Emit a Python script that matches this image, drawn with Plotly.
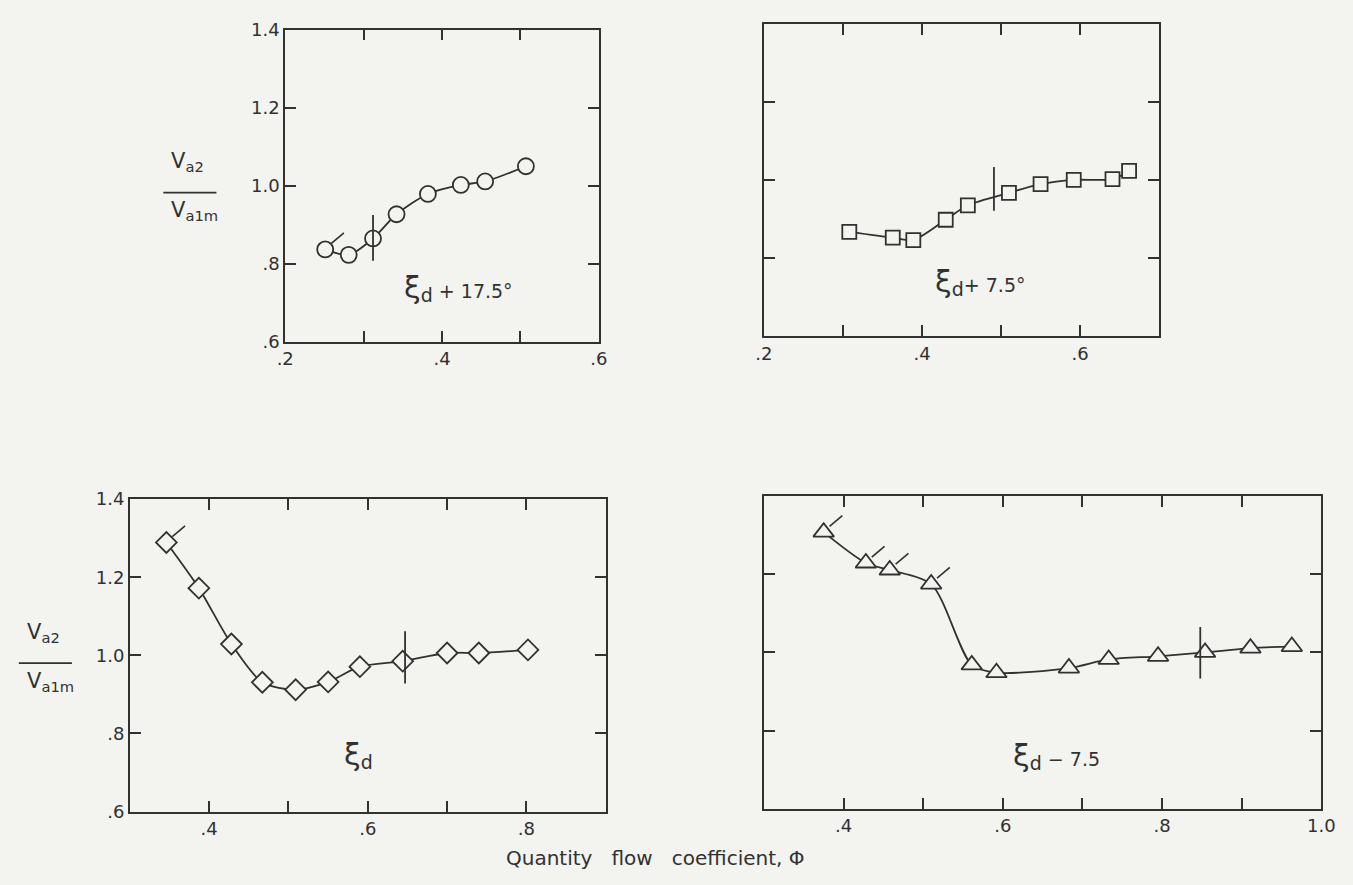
import plotly.graph_objects as go

# ---------------- data ----------------
phi_p1 = [0.251, 0.281, 0.312, 0.342, 0.382, 0.424, 0.455, 0.507]
v_p1 = [0.837, 0.823, 0.865, 0.927, 0.979, 1.002, 1.011, 1.050]

phi_p2 = [0.308, 0.363, 0.389, 0.430, 0.458, 0.510, 0.550, 0.592, 0.641, 0.662]
v_p2 = [0.867, 0.852, 0.846, 0.898, 0.935, 0.967, 0.989, 1.000, 1.002, 1.023]

phi_p3 = [0.346, 0.387, 0.428, 0.467, 0.509, 0.550, 0.590, 0.644, 0.700, 0.740, 0.802]
v_p3 = [1.289, 1.172, 1.029, 0.931, 0.912, 0.932, 0.971, 0.985, 1.006, 1.006, 1.014]

phi_p4 = [0.375, 0.428, 0.458, 0.510, 0.561, 0.592, 0.683, 0.733, 0.795, 0.854, 0.911, 0.963]
v_p4 = [1.308, 1.229, 1.211, 1.175, 0.968, 0.948, 0.960, 0.982, 0.990, 1.000, 1.011, 1.015]

flagged_p1 = [0]
flagged_p2 = []
flagged_p3 = [0]
flagged_p4 = [0, 1, 2, 3]

design_phi = [0.312, 0.491, 0.647, 0.848]
design_lo = [0.808, 0.921, 0.928, 0.933]
design_hi = [0.925, 1.033, 1.062, 1.065]

XI = "<span style='font-size:30px'>ξ</span><sub><span style='font-size:19px'>d</span></sub>"
panel_labels = [XI + " + 17.5°", XI + "+ 7.5°", XI, XI + " − 7.5"]
label_phi = [0.421, 0.473, 0.588, 0.667]
label_v = [0.738, 0.738, 0.746, 0.736]

y_ticks = [0.6, 0.8, 1.0, 1.2, 1.4]
y_ticktext = [".6", ".8", "1.0", "1.2", "1.4"]

x_ticks_p1 = [0.2, 0.3, 0.4, 0.5, 0.6]
x_labvals_p1 = [0.2, 0.4, 0.6]
x_labtext_p1 = [".2", ".4", ".6"]
x_ticks_p2 = [0.2, 0.3, 0.4, 0.5, 0.6, 0.7]
x_labvals_p2 = [0.2, 0.4, 0.6]
x_labtext_p2 = [".2", ".4", ".6"]
x_ticks_p3 = [0.3, 0.4, 0.5, 0.6, 0.7, 0.8, 0.9]
x_labvals_p3 = [0.4, 0.6, 0.8]
x_labtext_p3 = [".4", ".6", ".8"]
x_ticks_p4 = [0.3, 0.4, 0.5, 0.6, 0.7, 0.8, 0.9, 1.0]
x_labvals_p4 = [0.4, 0.6, 0.8, 1.0]
x_labtext_p4 = [".4", ".6", ".8", "1.0"]

x_title = "Quantity&nbsp;&nbsp; flow&nbsp;&nbsp; coefficient, Φ"
y_num = "V<sub>a2</sub>"
y_den = "V<sub>a1m</sub>"

# ---------------- layout / style ----------------
W, H = 1353, 885
BG = "#f3f3ef"
INK = "#313131"
FONT = "DejaVu Sans"

panels = [
    dict(px=(281, 600, 19, 339), xr=(0.2, 0.6), sym="circle", size=16,
         phi=phi_p1, v=v_p1, flags=flagged_p1, xt=x_ticks_p1,
         xlv=x_labvals_p1, xlt=x_labtext_p1, ylab=True),
    dict(px=(768, 1170, 13, 333), xr=(0.2, 0.7), sym="square", size=14,
         phi=phi_p2, v=v_p2, flags=flagged_p2, xt=x_ticks_p2,
         xlv=x_labvals_p2, xlt=x_labtext_p2, ylab=False),
    dict(px=(123, 607, 500, 820), xr=(0.3, 0.9), sym="diamond", size=16,
         phi=phi_p3, v=v_p3, flags=flagged_p3, xt=x_ticks_p3,
         xlv=x_labvals_p3, xlt=x_labtext_p3, ylab=True),
    dict(px=(768, 1335, 497, 817), xr=(0.3, 1.0), sym="triangle-up", size=18,
         phi=phi_p4, v=v_p4, flags=flagged_p4, xt=x_ticks_p4,
         xlv=x_labvals_p4, xlt=x_labtext_p4, ylab=False),
]
YR = (0.6, 1.4)

fig = go.Figure()
layout = dict(
    width=W, height=H, margin=dict(l=0, r=0, t=0, b=0),
    paper_bgcolor=BG, plot_bgcolor=BG, showlegend=False,
    font=dict(family=FONT, color=INK, size=17),
)

annotations = []
shapes = []
TICK = dict(ticks="inside", ticklen=11, tickwidth=1.6, tickcolor=INK)

for i, p in enumerate(panels):
    n = i + 1
    xa = "x" if n == 1 else f"x{n}"
    ya = "y" if n == 1 else f"y{n}"
    l, r, t, b = p["px"]
    x0, x1 = p["xr"]
    ppx = (r - l) / (x1 - x0)
    ppy = (b - t) / (YR[1] - YR[0])

    layout[f"xaxis{'' if n == 1 else n}"] = dict(
        domain=[l / W, r / W], range=[x0, x1], anchor=ya,
        showgrid=False, zeroline=False, showline=True, mirror="allticks",
        linecolor=INK, linewidth=1.8, **TICK,
        tickmode="array", tickvals=p["xlv"], ticktext=p["xlt"],
        minor=dict(tickmode="array", tickvals=p["xt"], showgrid=False, **TICK),
        tickfont=dict(size=18, family=FONT, color=INK), fixedrange=True,
    )
    layout[f"yaxis{'' if n == 1 else n}"] = dict(
        domain=[1 - b / H, 1 - t / H], range=list(YR), anchor=xa,
        showgrid=False, zeroline=False, showline=True, mirror="allticks",
        linecolor=INK, linewidth=1.8, **TICK,
        tickmode="array", tickvals=y_ticks, ticktext=y_ticktext,
        showticklabels=p["ylab"],
        tickfont=dict(size=18, family=FONT, color=INK), fixedrange=True,
    )

    for k in p["flags"]:
        fx = [p["phi"][k] + 6 / ppx, p["phi"][k] + 19 / ppx]
        fy = [p["v"][k] + 6 / ppy, p["v"][k] + 17 / ppy]
        fig.add_trace(go.Scatter(x=fx, y=fy, mode="lines", xaxis=xa, yaxis=ya,
                                 line=dict(color=INK, width=1.6), hoverinfo="skip"))

    fig.add_trace(go.Scatter(
        x=p["phi"], y=p["v"], mode="lines+markers", xaxis=xa, yaxis=ya,
        line=dict(color=INK, width=1.8, shape="spline", smoothing=0.8),
        marker=dict(symbol=p["sym"], size=p["size"], color=BG,
                    line=dict(color=INK, width=1.8)),
    ))

    fig.add_trace(go.Scatter(
        x=[design_phi[i], design_phi[i]], y=[design_lo[i], design_hi[i]],
        mode="lines", xaxis=xa, yaxis=ya, line=dict(color=INK, width=1.8),
        hoverinfo="skip"))

    annotations.append(dict(
        x=label_phi[i], y=label_v[i], xref=xa, yref=ya, showarrow=False,
        text=panel_labels[i], font=dict(size=19, family=FONT, color=INK),
        xanchor="center", yanchor="middle"))

# y-axis titles as stacked fractions
for (cx, ly) in [(184, 186), (37, 668)]:
    annotations.append(dict(x=(cx - 2) / W, y=1 - (ly - 16) / H, xref="paper", yref="paper",
                            text=y_num, showarrow=False, xanchor="center", yanchor="bottom",
                            font=dict(size=21, family=FONT, color=INK)))
    annotations.append(dict(x=(cx + 5) / W, y=1 - (ly + 4) / H, xref="paper", yref="paper",
                            text=y_den, showarrow=False, xanchor="center", yanchor="top",
                            font=dict(size=21, family=FONT, color=INK)))
    shapes.append(dict(type="line", xref="paper", yref="paper",
                       x0=(cx - 27) / W, x1=(cx + 27) / W, y0=1 - ly / H, y1=1 - ly / H,
                       line=dict(color=INK, width=1.6)))

annotations.append(dict(x=657 / W, y=1 - 868 / H, xref="paper", yref="paper",
                        text=x_title, showarrow=False, xanchor="center", yanchor="middle",
                        font=dict(size=20, family=FONT, color=INK)))

layout["annotations"] = annotations
layout["shapes"] = shapes
fig.update_layout(**layout)
fig.write_html("out.html", config={"displayModeBar": False})
